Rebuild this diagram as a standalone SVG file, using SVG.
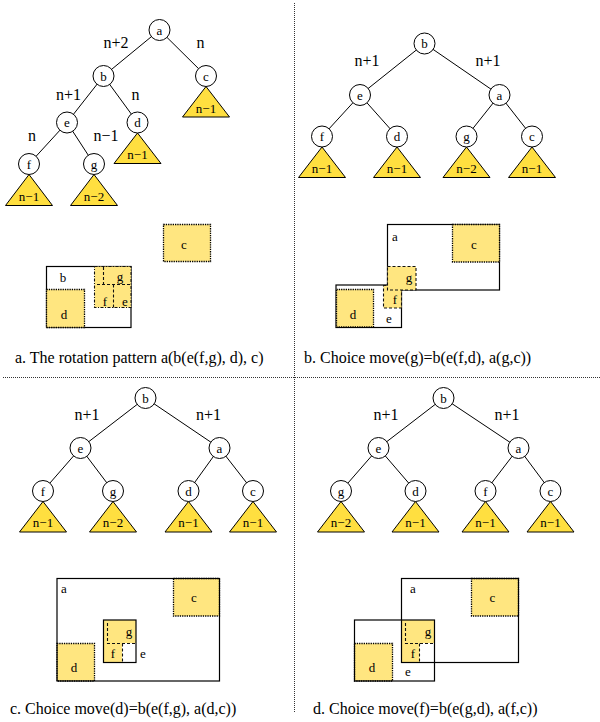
<svg xmlns="http://www.w3.org/2000/svg" width="600" height="722" viewBox="0 0 600 722">
<style>
text{font-family:"Liberation Serif","Times New Roman",serif;fill:#000}
.nl{font-size:13px;text-anchor:middle}
.tl{font-size:13px;text-anchor:middle}
.el{font-size:16px;text-anchor:middle}
.cap{font-size:16px}
.rl{font-size:13px;text-anchor:middle}
.edge line{stroke:#000;stroke-width:1}
circle{fill:#fff;stroke:#000;stroke-width:1}
.tri{fill:#FFDF40;stroke:#000;stroke-width:1}
.box{fill:none;stroke:#000;stroke-width:1.2}
.dot{fill:#FFE680;stroke:#000;stroke-width:1.3;stroke-dasharray:1.3 1}
.dash{fill:#FFE680;stroke:#111;stroke-width:1.1;stroke-dasharray:3 2}
.dashl{fill:none;stroke:#111;stroke-width:1.1;stroke-dasharray:3 2}
.dd{fill:#FFE680;stroke:#111;stroke-width:1.1;stroke-dasharray:3 1.5 1 1.5}
.fill{fill:#FFE680;stroke:none}
.div{stroke:#333;stroke-width:1;stroke-dasharray:1 1;fill:none}
</style>

<g id="dividers">
<line class="div" x1="294.5" y1="3" x2="294.5" y2="712"/>
<line class="div" x1="3" y1="377.5" x2="600" y2="377.5"/>
</g>

<g id="connectors" class="edge">
<line x1="159.5" y1="30" x2="103.5" y2="76"/>
<line x1="159.5" y1="30" x2="206" y2="76"/>
<line x1="103.5" y1="76" x2="67" y2="122.5"/>
<line x1="103.5" y1="76" x2="137.5" y2="122.5"/>
<line x1="67" y1="122.5" x2="29" y2="164"/>
<line x1="67" y1="122.5" x2="94" y2="164"/>
<line x1="424.5" y1="43.5" x2="360" y2="95"/>
<line x1="424.5" y1="43.5" x2="499.5" y2="95"/>
<line x1="360" y1="95" x2="322" y2="136.5"/>
<line x1="360" y1="95" x2="397" y2="136.5"/>
<line x1="499.5" y1="95" x2="466.5" y2="136.5"/>
<line x1="499.5" y1="95" x2="532" y2="136.5"/>
<line x1="145.5" y1="398" x2="80.5" y2="448"/>
<line x1="145.5" y1="398" x2="219.5" y2="448"/>
<line x1="80.5" y1="448" x2="43" y2="491"/>
<line x1="80.5" y1="448" x2="113" y2="491"/>
<line x1="219.5" y1="448" x2="188.5" y2="491"/>
<line x1="219.5" y1="448" x2="253" y2="491"/>
<line x1="443.5" y1="398" x2="378.5" y2="448"/>
<line x1="443.5" y1="398" x2="518.5" y2="448"/>
<line x1="378.5" y1="448" x2="341" y2="491"/>
<line x1="378.5" y1="448" x2="415.5" y2="491"/>
<line x1="518.5" y1="448" x2="485.5" y2="491"/>
<line x1="518.5" y1="448" x2="550.5" y2="491"/>
</g>

<g id="edge-labels">
<text class="el" x="116" y="48">n+2</text>
<text class="el" x="200.5" y="48">n</text>
<text class="el" x="68.5" y="100">n+1</text>
<text class="el" x="135.5" y="100">n</text>
<text class="el" x="32" y="141">n</text>
<text class="el" x="106" y="141">n−1</text>
<text class="el" x="367" y="65.5">n+1</text>
<text class="el" x="488" y="65.5">n+1</text>
<text class="el" x="87" y="420">n+1</text>
<text class="el" x="208.5" y="420">n+1</text>
<text class="el" x="386" y="420">n+1</text>
<text class="el" x="507" y="420">n+1</text>
</g>

<g id="pa-a"><circle cx="159.5" cy="30" r="10.5"/><text class="nl" x="159.5" y="34.5">a</text></g>
<g id="pa-b"><circle cx="103.5" cy="76" r="10.5"/><text class="nl" x="103.5" y="80.5">b</text></g>
<g id="pa-c"><path class="tri" d="M206,86.5 L229.5,117 L182.5,117 Z"/><circle cx="206" cy="76" r="10.5"/><text class="nl" x="206" y="80.5">c</text><text class="tl" x="206" y="112.5">n−1</text></g>
<g id="pa-e"><circle cx="67" cy="122.5" r="10.5"/><text class="nl" x="67" y="127">e</text></g>
<g id="pa-d"><path class="tri" d="M137.5,133 L161,163.5 L114,163.5 Z"/><circle cx="137.5" cy="122.5" r="10.5"/><text class="nl" x="137.5" y="127">d</text><text class="tl" x="137.5" y="159">n−1</text></g>
<g id="pa-f"><path class="tri" d="M29,174.5 L52.5,205.5 L5.5,205.5 Z"/><circle cx="29" cy="164" r="10.5"/><text class="nl" x="29" y="168.5">f</text><text class="tl" x="29" y="201">n−1</text></g>
<g id="pa-g"><path class="tri" d="M94,174.5 L117.5,205.5 L70.5,205.5 Z"/><circle cx="94" cy="164" r="10.5"/><text class="nl" x="94" y="168.5">g</text><text class="tl" x="94" y="201">n−2</text></g>

<g id="pb-b"><circle cx="424.5" cy="43.5" r="10.5"/><text class="nl" x="424.5" y="48">b</text></g>
<g id="pb-e"><circle cx="360" cy="95" r="10.5"/><text class="nl" x="360" y="99.5">e</text></g>
<g id="pb-a"><circle cx="499.5" cy="95" r="10.5"/><text class="nl" x="499.5" y="99.5">a</text></g>
<g id="pb-f"><path class="tri" d="M322,147 L345.5,177.5 L298.5,177.5 Z"/><circle cx="322" cy="136.5" r="10.5"/><text class="nl" x="322" y="141">f</text><text class="tl" x="322" y="173">n−1</text></g>
<g id="pb-d"><path class="tri" d="M397,147 L420.5,177.5 L373.5,177.5 Z"/><circle cx="397" cy="136.5" r="10.5"/><text class="nl" x="397" y="141">d</text><text class="tl" x="397" y="173">n−1</text></g>
<g id="pb-g"><path class="tri" d="M466.5,147 L490,177.5 L443,177.5 Z"/><circle cx="466.5" cy="136.5" r="10.5"/><text class="nl" x="466.5" y="141">g</text><text class="tl" x="466.5" y="173">n−2</text></g>
<g id="pb-c"><path class="tri" d="M532,147 L555.5,177.5 L508.5,177.5 Z"/><circle cx="532" cy="136.5" r="10.5"/><text class="nl" x="532" y="141">c</text><text class="tl" x="532" y="173">n−1</text></g>

<g id="pc-b"><circle cx="145.5" cy="398" r="10.5"/><text class="nl" x="145.5" y="402.5">b</text></g>
<g id="pc-e"><circle cx="80.5" cy="448" r="10.5"/><text class="nl" x="80.5" y="452.5">e</text></g>
<g id="pc-a"><circle cx="219.5" cy="448" r="10.5"/><text class="nl" x="219.5" y="452.5">a</text></g>
<g id="pc-f"><path class="tri" d="M43,501.5 L66.5,532 L19.5,532 Z"/><circle cx="43" cy="491" r="10.5"/><text class="nl" x="43" y="495.5">f</text><text class="tl" x="43" y="527">n−1</text></g>
<g id="pc-g"><path class="tri" d="M113,501.5 L136.5,532 L89.5,532 Z"/><circle cx="113" cy="491" r="10.5"/><text class="nl" x="113" y="495.5">g</text><text class="tl" x="113" y="527">n−2</text></g>
<g id="pc-d"><path class="tri" d="M188.5,501.5 L212,532 L165,532 Z"/><circle cx="188.5" cy="491" r="10.5"/><text class="nl" x="188.5" y="495.5">d</text><text class="tl" x="188.5" y="527">n−1</text></g>
<g id="pc-c"><path class="tri" d="M253,501.5 L276.5,532 L229.5,532 Z"/><circle cx="253" cy="491" r="10.5"/><text class="nl" x="253" y="495.5">c</text><text class="tl" x="253" y="527">n−1</text></g>

<g id="pd-b"><circle cx="443.5" cy="398" r="10.5"/><text class="nl" x="443.5" y="402.5">b</text></g>
<g id="pd-e"><circle cx="378.5" cy="448" r="10.5"/><text class="nl" x="378.5" y="452.5">e</text></g>
<g id="pd-a"><circle cx="518.5" cy="448" r="10.5"/><text class="nl" x="518.5" y="452.5">a</text></g>
<g id="pd-g"><path class="tri" d="M341,501.5 L364.5,532 L317.5,532 Z"/><circle cx="341" cy="491" r="10.5"/><text class="nl" x="341" y="495.5">g</text><text class="tl" x="341" y="527">n−2</text></g>
<g id="pd-d"><path class="tri" d="M415.5,501.5 L439,532 L392,532 Z"/><circle cx="415.5" cy="491" r="10.5"/><text class="nl" x="415.5" y="495.5">d</text><text class="tl" x="415.5" y="527">n−1</text></g>
<g id="pd-f"><path class="tri" d="M485.5,501.5 L509,532 L462,532 Z"/><circle cx="485.5" cy="491" r="10.5"/><text class="nl" x="485.5" y="495.5">f</text><text class="tl" x="485.5" y="527">n−1</text></g>
<g id="pd-c"><path class="tri" d="M550.5,501.5 L574,532 L527,532 Z"/><circle cx="550.5" cy="491" r="10.5"/><text class="nl" x="550.5" y="495.5">c</text><text class="tl" x="550.5" y="527">n−1</text></g>

<g id="ra">
<rect class="dot" x="163.5" y="224.5" width="47" height="37"/>
<text class="rl" x="184" y="248.5">c</text>
<rect class="box" x="46.5" y="266.5" width="84.5" height="61"/>
<text class="rl" x="63" y="281.5">b</text>
<rect class="dot" x="46.5" y="289.5" width="38" height="38"/>
<text class="rl" x="64" y="319">d</text>
<rect class="dd" x="94.5" y="266.5" width="36.5" height="41"/>
<path class="dashl" d="M103.5,267 V284.5 M97,284.5 H130 M113.5,284.5 V307.5"/>
<text class="rl" x="120" y="281">g</text>
<text class="rl" x="105" y="305.5">f</text>
<text class="rl" x="125" y="305.5">e</text>
</g>

<g id="rb">
<rect class="box" x="387.5" y="224.5" width="112" height="65.5"/>
<rect class="box" x="336" y="285" width="65.5" height="42.5"/>
<rect class="dot" x="452.5" y="224.5" width="47" height="37.5"/>
<rect class="dot" x="336.5" y="289.5" width="37" height="37.5"/>
<rect class="dash" x="383.5" y="285.5" width="18" height="22.5"/>
<rect class="dash" x="387.5" y="266.5" width="28.5" height="23.5"/>
<text class="rl" x="395" y="240.5">a</text>
<text class="rl" x="474" y="249">c</text>
<text class="rl" x="409" y="282">g</text>
<text class="rl" x="353" y="318.5">d</text>
<text class="rl" x="395" y="304">f</text>
<text class="rl" x="389" y="323">e</text>
</g>

<g id="rc">
<rect class="dot" x="173.5" y="578.5" width="46" height="37.5"/>
<rect class="dot" x="57" y="643.5" width="37.5" height="37.5"/>
<rect class="fill" x="103.5" y="620" width="32.5" height="23"/>
<rect class="fill" x="103.5" y="643" width="18.5" height="19"/>
<path class="dashl" d="M107.5,623 V643.5 H136 M122.5,643.5 V662"/>
<rect class="box" x="57" y="578.5" width="162.5" height="102.5"/>
<rect class="box" x="103.5" y="620" width="32.5" height="42.5"/>
<text class="rl" x="64" y="593">a</text>
<text class="rl" x="194" y="602">c</text>
<text class="rl" x="74" y="672">d</text>
<text class="rl" x="129" y="636">g</text>
<text class="rl" x="113" y="658">f</text>
<text class="rl" x="143" y="658">e</text>
</g>

<g id="rd">
<rect class="dot" x="471.5" y="578.5" width="47" height="37.5"/>
<rect class="dot" x="354.5" y="643.5" width="38" height="37.5"/>
<rect class="fill" x="401.5" y="620" width="33" height="23"/>
<rect class="fill" x="401.5" y="643" width="18" height="19"/>
<path class="dashl" d="M405.5,623 V643.5 H434 M419.5,643.5 V662"/>
<rect class="box" x="401.5" y="578.5" width="117" height="84"/>
<rect class="box" x="354.5" y="620" width="80" height="61"/>
<text class="rl" x="413" y="593">a</text>
<text class="rl" x="492.5" y="602">c</text>
<text class="rl" x="372" y="672">d</text>
<text class="rl" x="428" y="636">g</text>
<text class="rl" x="413" y="658">f</text>
<text class="rl" x="408" y="675.5">e</text>
</g>

<g id="captions">
<text class="cap" x="15" y="363">a. The rotation pattern a(b(e(f,g), d), c)</text>
<text class="cap" x="304" y="363">b. Choice move(g)=b(e(f,d), a(g,c))</text>
<text class="cap" x="10" y="714">c. Choice move(d)=b(e(f,g), a(d,c))</text>
<text class="cap" x="313" y="714">d. Choice move(f)=b(e(g,d), a(f,c))</text>
</g>
</svg>
